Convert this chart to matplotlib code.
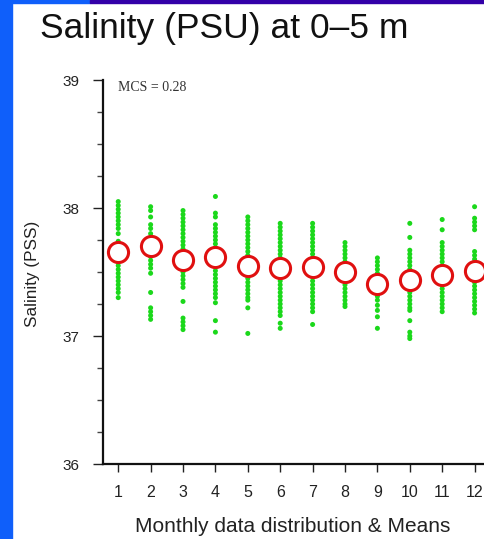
import numpy as np
import matplotlib
matplotlib.use('Agg')
import matplotlib.pyplot as plt
from matplotlib.patches import Rectangle
from matplotlib.ticker import MultipleLocator

plt.rcParams['font.family'] = ['Liberation Sans', 'DejaVu Sans']

# monthly salinity samples (0-5 m) and monthly means
months = [1, 2, 3, 4, 5, 6, 7, 8, 9, 10, 11, 12]
month_labels = ['1', '2', '3', '4', '5', '6', '7', '8', '9', '10', '11', '12']

sal_jan = [38.05, 38.02, 37.99, 37.96, 37.93, 37.90, 37.87, 37.84, 37.80, 37.74, 37.70, 37.67,
           37.64, 37.61, 37.58, 37.55, 37.52, 37.49, 37.46, 37.43, 37.40, 37.37, 37.34, 37.30]
sal_feb = [38.01, 37.98, 37.93, 37.87, 37.84, 37.80, 37.77, 37.74, 37.71, 37.68, 37.65, 37.62,
           37.59, 37.56, 37.53, 37.49, 37.34, 37.22, 37.19, 37.16, 37.13]
sal_mar = [37.98, 37.95, 37.92, 37.89, 37.86, 37.83, 37.80, 37.77, 37.74, 37.71, 37.68, 37.65,
           37.62, 37.59, 37.56, 37.53, 37.50, 37.47, 37.44, 37.41, 37.38, 37.27, 37.14, 37.11,
           37.08, 37.05]
sal_apr = [38.09, 37.96, 37.93, 37.87, 37.84, 37.81, 37.78, 37.75, 37.72, 37.69, 37.66, 37.63,
           37.60, 37.57, 37.54, 37.51, 37.48, 37.45, 37.42, 37.39, 37.36, 37.33, 37.30, 37.26,
           37.12, 37.03]
sal_may = [37.93, 37.90, 37.87, 37.84, 37.81, 37.78, 37.75, 37.72, 37.69, 37.66, 37.63, 37.60,
           37.57, 37.54, 37.51, 37.48, 37.45, 37.42, 37.39, 37.36, 37.33, 37.30, 37.28, 37.22,
           37.02]
sal_jun = [37.88, 37.85, 37.82, 37.79, 37.76, 37.73, 37.70, 37.67, 37.64, 37.61, 37.58, 37.55,
           37.52, 37.49, 37.46, 37.43, 37.40, 37.37, 37.34, 37.31, 37.28, 37.25, 37.22, 37.19,
           37.16, 37.10, 37.06]
sal_jul = [37.88, 37.85, 37.82, 37.79, 37.76, 37.73, 37.70, 37.67, 37.64, 37.61, 37.58, 37.55,
           37.52, 37.49, 37.46, 37.43, 37.40, 37.37, 37.34, 37.31, 37.28, 37.25, 37.22, 37.19,
           37.09]
sal_aug = [37.73, 37.70, 37.67, 37.64, 37.61, 37.58, 37.55, 37.52, 37.49, 37.46, 37.43, 37.40,
           37.37, 37.34, 37.31, 37.28, 37.25, 37.23]
sal_sep = [37.61, 37.58, 37.55, 37.52, 37.49, 37.46, 37.43, 37.40, 37.37, 37.34, 37.31, 37.28,
           37.24, 37.20, 37.15, 37.06]
sal_oct = [37.88, 37.77, 37.67, 37.64, 37.61, 37.58, 37.55, 37.52, 37.49, 37.46, 37.43, 37.40,
           37.37, 37.34, 37.31, 37.28, 37.25, 37.22, 37.20, 37.12, 37.03, 37.00, 36.98]
sal_nov = [37.91, 37.83, 37.73, 37.70, 37.67, 37.64, 37.61, 37.58, 37.55, 37.52, 37.49, 37.46,
           37.43, 37.40, 37.37, 37.34, 37.31, 37.28, 37.25, 37.22, 37.19]
sal_dec = [38.01, 37.92, 37.89, 37.86, 37.83, 37.66, 37.63, 37.60, 37.57, 37.54, 37.51, 37.48,
           37.45, 37.42, 37.39, 37.36, 37.33, 37.30, 37.27, 37.24, 37.21, 37.18]

monthly_means = [37.66, 37.70, 37.59, 37.62, 37.55, 37.53, 37.54, 37.50, 37.41, 37.44, 37.48, 37.51]

samples = [sal_jan, sal_feb, sal_mar, sal_apr, sal_may, sal_jun,
           sal_jul, sal_aug, sal_sep, sal_oct, sal_nov, sal_dec]

mcs_text = 'MCS = 0.28'

W, H = 484, 539
fig = plt.figure(figsize=(W / 100, H / 100), dpi=100)
fig.patch.set_facecolor('white')

# blue slide frame
fig.patches.append(Rectangle((0, 0), 12 / W, 1, transform=fig.transFigure,
                             color='#0F5FFA', zorder=0))
fig.patches.append(Rectangle((0, 1 - 3 / H), 90 / W, 3 / H, transform=fig.transFigure,
                             color='#0F5FFA', zorder=0))
fig.patches.append(Rectangle((90 / W, 1 - 3 / H), 1, 3 / H, transform=fig.transFigure,
                             color='#3300A8', zorder=0))

ax = fig.add_axes([103 / W, 75 / H, (W - 103) / W + 0.01, 384 / H])

for m, vals in zip(months, samples):
    ax.scatter([m] * len(vals), vals, s=13, color='#1BD81B', edgecolors='none', zorder=2)

ax.plot(months, monthly_means, linestyle='none', marker='o', markersize=14.5,
        markerfacecolor='white', markeredgecolor='#E01010', markeredgewidth=2.2, zorder=3)

ax.set_xlim(0.53, 12.44)
ax.set_ylim(36, 39)
ax.set_xticks(months)
ax.set_xticklabels(month_labels)
ax.set_yticks([36, 37, 38, 39])
ax.yaxis.set_minor_locator(MultipleLocator(0.25))

for s in ['top', 'right']:
    ax.spines[s].set_visible(False)
for s in ['left', 'bottom']:
    ax.spines[s].set_linewidth(1.6)
    ax.spines[s].set_color('#111111')

ax.tick_params(axis='y', which='major', direction='out', length=7, width=1,
               pad=10, labelsize=11, colors='#222222')
ax.tick_params(axis='y', which='minor', direction='out', length=4, width=1, colors='#444444')
ax.tick_params(axis='x', which='major', direction='out', length=6, width=1,
               pad=9, labelsize=11.5, colors='#222222')

ax.text(1.0, 38.945, mcs_text, fontsize=10, family=['Liberation Serif', 'DejaVu Serif'],
        color='#333333', va='center', ha='left')

fig.text(40 / W, 1 - 38 / H, 'Salinity (PSU) at 0\u20135 m', fontsize=25.5,
         ha='left', va='baseline', color='#111111')
fig.text(33 / W, 1 - 274 / H, 'Salinity (PSS)', fontsize=12.3, rotation=90,
         ha='center', va='center', color='#222222')
fig.text(293 / W, 1 - 532 / H, 'Monthly data distribution & Means', fontsize=15,
         ha='center', va='baseline', color='#222222')

plt.savefig('out.png', dpi=100)
